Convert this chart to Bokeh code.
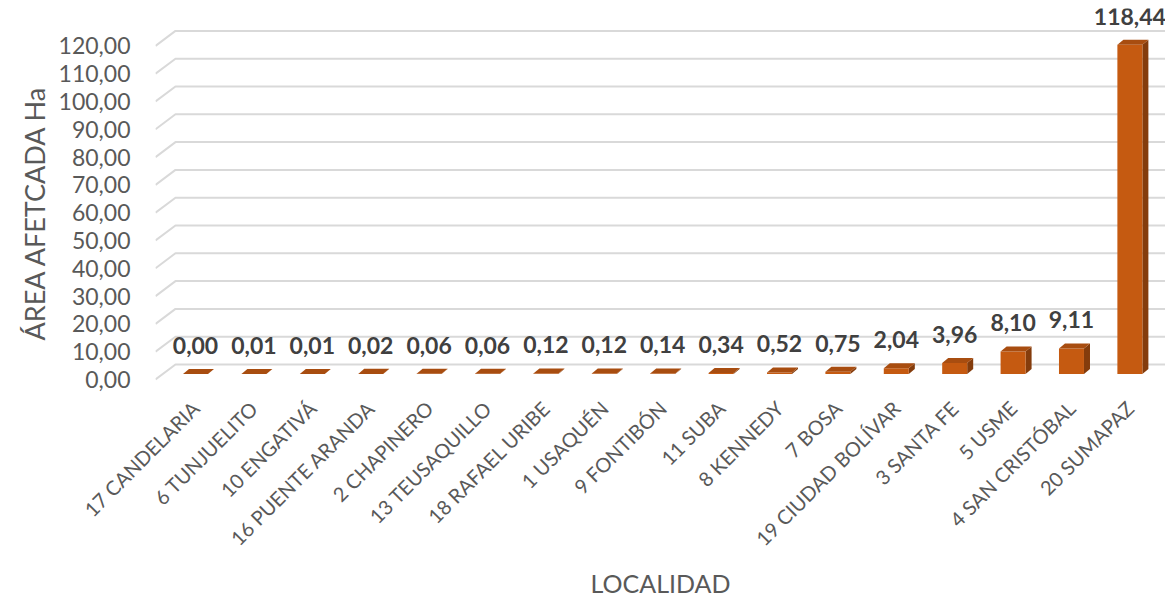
import math
from bokeh.plotting import figure
from bokeh.models import FixedTicker, ColumnDataSource, Range1d, Title
from bokeh.embed import file_html
from bokeh.resources import INLINE
from bokeh.core.properties import value

# ---------------- data ----------------
localidades = ["17 CANDELARIA", "6 TUNJUELITO", "10 ENGATIVÁ", "16 PUENTE ARANDA",
               "2 CHAPINERO", "13 TEUSAQUILLO", "18 RAFAEL URIBE", "1 USAQUÉN",
               "9 FONTIBÓN", "11 SUBA", "8 KENNEDY", "7 BOSA", "19 CIUDAD BOLÍVAR",
               "3 SANTA FE", "5 USME", "4 SAN CRISTÓBAL", "20 SUMAPAZ"]
area_ha = [0.00, 0.01, 0.01, 0.02, 0.06, 0.06, 0.12, 0.12, 0.14, 0.34, 0.52,
           0.75, 2.04, 3.96, 8.10, 9.11, 118.44]
y_ticks = [0, 10, 20, 30, 40, 50, 60, 70, 80, 90, 100, 110, 120]
y_tick_labels = ["0,00", "10,00", "20,00", "30,00", "40,00", "50,00", "60,00",
                 "70,00", "80,00", "90,00", "100,00", "110,00", "120,00"]
y_title = "ÁREA AFETCADA Ha"
x_title = "LOCALIDAD"

# ---------------- style / geometry ----------------
FONT = "Lato"
GRID = "#D9D9D9"
TXT = "#595959"
FRONT = "#C55A11"
SIDE = "#843C0C"
TOP = "#A84D10"
hw = 0.214      # half width of bar front face (x units)
base = 2.0      # bar base height above front plane (y units)
ddx, ddy = 0.103, 1.8     # bar depth offset
gdx, gdy = 0.342, 5.4     # wall depth offset
x0, x1 = -0.685, 16.61
y0, y1 = -2.52, 133.45

n = len(area_ha)
xs = list(range(n))
labels = [f"{v:.2f}".replace(".", ",") for v in area_ha]

front = ColumnDataSource(dict(
    left=[x - hw for x in xs], right=[x + hw for x in xs],
    bottom=[base] * n, top=[base + v for v in area_ha]))
side = ColumnDataSource(dict(
    xs=[[x + hw, x + hw + ddx, x + hw + ddx, x + hw] for x in xs],
    ys=[[base, base + ddy, base + v + ddy, base + v] for v in area_ha]))
topf = ColumnDataSource(dict(
    xs=[[x - hw, x + hw, x + hw + ddx, x - hw + ddx] for x in xs],
    ys=[[base + v, base + v, base + v + ddy, base + v + ddy] for v in area_ha]))
lab = ColumnDataSource(dict(x=xs, y=[v + 12.3 for v in area_ha], t=labels))
grid = ColumnDataSource(dict(
    xs=[[x0, x0 + gdx, x1] for _ in y_ticks],
    ys=[[t, t + gdy, t + gdy] for t in y_ticks]))

p = figure(frame_width=1010, frame_height=378, output_backend="svg",
           toolbar_location=None, x_range=Range1d(x0, x1), y_range=Range1d(y0, y1),
           min_border_left=155, min_border_right=0, min_border_top=8,
           min_border_bottom=206)
p.outline_line_color = None
p.xgrid.visible = False
p.ygrid.visible = False

p.multi_line(xs="xs", ys="ys", source=grid, line_color=GRID, line_width=2)
p.patches(xs="xs", ys="ys", source=side, fill_color=SIDE, line_color=None)
p.quad(left="left", right="right", bottom="bottom", top="top", source=front,
       fill_color=FRONT, line_color=None)
p.patches(xs="xs", ys="ys", source=topf, fill_color=TOP, line_color=None)
p.text(x="x", y="y", text="t", source=lab, text_align="center",
       text_baseline="alphabetic", text_font=value(FONT), text_font_style="bold",
       text_font_size="23px", text_color="#404040")

# axes
p.yaxis.ticker = FixedTicker(ticks=y_ticks)
p.yaxis.major_label_overrides = {t: s for t, s in zip(y_ticks, y_tick_labels)}
p.xaxis.ticker = FixedTicker(ticks=xs)
p.xaxis.major_label_overrides = {x: s for x, s in zip(xs, localidades)}
p.xaxis.major_label_orientation = math.pi / 4
for ax in (p.xaxis[0], p.yaxis[0]):
    ax.axis_line_color = None
    ax.major_tick_line_color = None
    ax.minor_tick_line_color = None
    ax.major_tick_out = 0
    ax.major_label_text_font = FONT
    ax.major_label_text_color = TXT
    ax.axis_label_text_font = FONT
    ax.axis_label_text_color = TXT
    ax.axis_label_text_font_style = "normal"
    ax.axis_label_text_font_size = "25px"
p.yaxis.major_label_text_font_size = "23px"
p.yaxis.major_label_standoff = 25
p.xaxis.major_label_text_font_size = "20px"
p.xaxis.major_label_standoff = 18
p.xaxis.axis_label = x_title
p.xaxis.axis_label_standoff = 6

p.add_layout(Title(text=y_title, align="left", offset=46, text_font=FONT,
                   text_font_size="27px", text_font_style="normal",
                   text_color=TXT), "left")

open("out.html", "w").write(file_html(p, INLINE))
